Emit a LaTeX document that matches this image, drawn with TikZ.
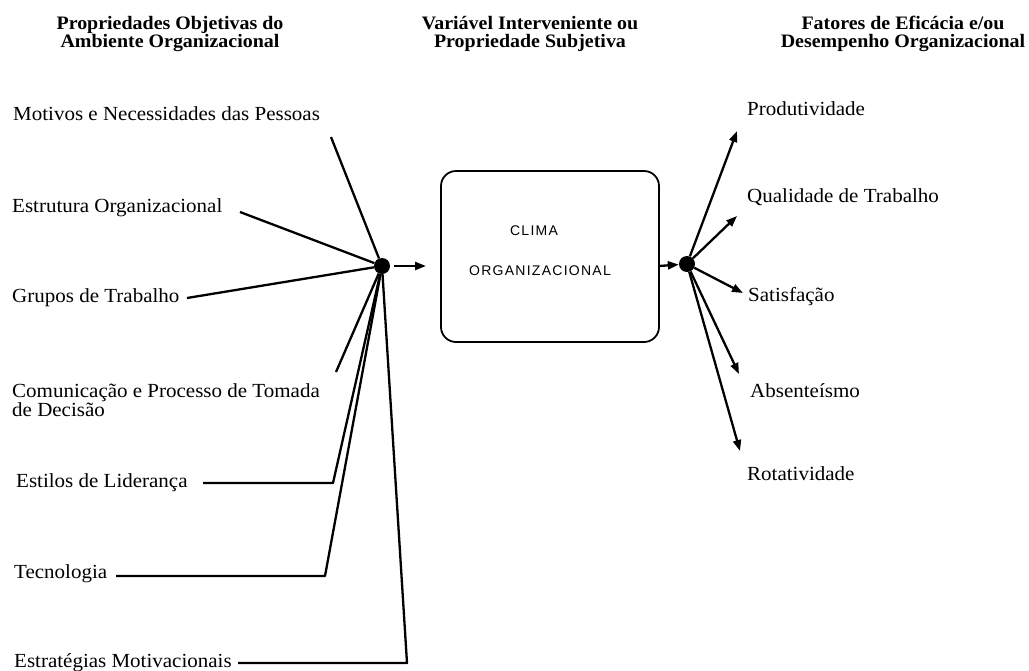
\documentclass[tikz,border=0pt]{standalone}
\usepackage{fontspec}
\setmainfont{Liberation Serif}[FakeStretch=1.05]
\newfontfamily\boxfont{Liberation Sans}[LetterSpace=9]
\usetikzlibrary{arrows.meta}
\begin{document}
\begin{tikzpicture}[x=1pt,y=-1pt,
  lbl/.style={anchor=base west,inner sep=0pt,font=\fontsize{20}{20}\selectfont},
  rlbl/.style={anchor=base west,inner sep=0pt,font=\fontsize{20}{20}\selectfont},
  hdr/.style={anchor=base,inner sep=0pt,align=center,font=\fontsize{19}{19}\selectfont\bfseries},
  conn/.style={line width=2.3pt,line join=round},
  arr/.style={line width=2.3pt,-{Triangle[length=11pt,width=8pt]}},
  dot/.style={circle,fill=black,minimum size=16pt,inner sep=0pt},
  boxtxt/.style={anchor=base,inner sep=0pt,font=\boxfont\fontsize{14}{14}\selectfont}]
\useasboundingbox (0,0) rectangle (1029,670);
% headers
\node[hdr] (h1a) at (170,29) {Propriedades Objetivas do};
\node[hdr] (h1b) at (170,47) {Ambiente Organizacional};
\node[hdr] (h2a) at (530,29) {Variável Interveniente ou};
\node[hdr] (h2b) at (530,47) {Propriedade Subjetiva};
\node[hdr] (h3a) at (903,29) {Fatores de Eficácia e/ou};
\node[hdr] (h3b) at (903,47) {Desempenho Organizacional};
% left labels
\node[lbl] (mot) at (13,120) {Motivos e Necessidades das Pessoas};
\node[lbl] (est) at (12,212) {Estrutura Organizacional};
\node[lbl] (gru) at (12,302) {Grupos de Trabalho};
\node[lbl] (com1) at (12,397) {Comunicação e Processo de Tomada};
\node[lbl] (com2) at (12,416) {de Decisão};
\node[lbl] (sti) at (16,487) {Estilos de Liderança};
\node[lbl] (tec) at (14,578) {Tecnologia};
\node[lbl] (str) at (14,667) {Estratégias Motivacionais};
% dots and box
\node[dot] (dotL) at (382,266) {};
\node[dot] (dotR) at (687,264) {};
\draw[line width=1.8pt,rounded corners=15pt] (441,171) rectangle (659,342);
\coordinate (box) at (659,266);
\node[boxtxt] (clima) at (534,235) {CLIMA};
\node[boxtxt] (org) at (540,275) {ORGANIZACIONAL};
% left connectors
\coordinate (cm) at (331,137);
\coordinate (ce) at (240,212);
\coordinate (cg) at (187,298);
\coordinate (cc) at (336,372);
\coordinate (cs1) at (203,483);
\coordinate (cs2) at (333,483);
\coordinate (ct1) at (116,576);
\coordinate (ct2) at (325,576);
\coordinate (cr1) at (238,663);
\coordinate (cr2) at (407,663);
\draw[conn] (cm) -- (dotL);
\draw[conn] (ce) -- (dotL);
\draw[conn] (cg) -- (dotL);
\draw[conn] (cc) -- (dotL);
\draw[conn] (cs1) -- (cs2) -- (dotL);
\draw[conn] (ct1) -- (ct2) -- (dotL);
\draw[conn] (cr1) -- (cr2) -- (dotL);
% middle arrows
\coordinate (aL) at (426,266);
\draw[arr] ([xshift=4pt]dotL.east) -- (aL);
\draw[arr] (box) -- (dotR);
% right labels
\node[rlbl] (pro) at (747,115) {Produtividade};
\node[rlbl] (qua) at (747,202) {Qualidade de Trabalho};
\node[rlbl] (sat) at (748,301) {Satisfação};
\node[rlbl] (abs) at (750,397) {Absenteísmo};
\node[rlbl] (rot) at (747,480) {Rotatividade};
\coordinate (ep) at (737,131);
\coordinate (eq) at (737,216);
\coordinate (es) at (743,293);
\coordinate (ea) at (739,374);
\coordinate (er) at (740,451);
\draw[arr] (dotR) -- (ep);
\draw[arr] (dotR) -- (eq);
\draw[arr] (dotR) -- (es);
\draw[arr] (dotR) -- (ea);
\draw[arr] (dotR) -- (er);
\end{tikzpicture}
\end{document}
